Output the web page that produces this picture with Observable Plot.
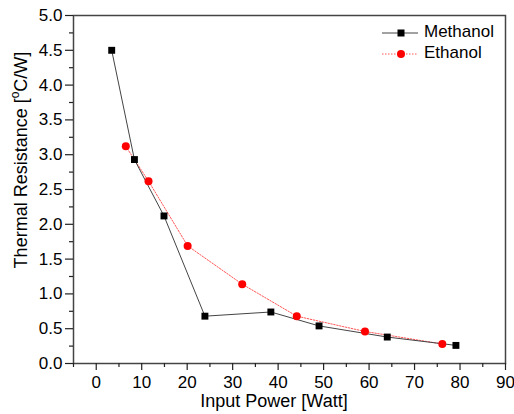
<!DOCTYPE html>
<html>
<head>
<meta charset="utf-8">
<script src="https://cdn.jsdelivr.net/npm/d3@7"></script>
<script src="https://cdn.jsdelivr.net/npm/@observablehq/plot@0.6"></script>
<style>
  html, body { margin: 0; padding: 0; background: #fff; }
  #chart { width: 514px; height: 414px; }
</style>
</head>
<body>
<div id="chart"></div>
<script>
// Data
const methanolPower = [3.4, 8.4, 14.9, 23.9, 38.4, 49.0, 64.0, 79.1];
const methanolResistance = [4.50, 2.93, 2.12, 0.68, 0.74, 0.54, 0.38, 0.26];
const ethanolPower = [6.5, 11.5, 20.1, 32.1, 44.1, 59.1, 76.1];
const ethanolResistance = [3.12, 2.62, 1.69, 1.14, 0.68, 0.46, 0.28];
const xTicks = [0, 10, 20, 30, 40, 50, 60, 70, 80, 90];
const xMinorTicks = [-5, 5, 15, 25, 35, 45, 55, 65, 75, 85];
const yTicks = [0.0, 0.5, 1.0, 1.5, 2.0, 2.5, 3.0, 3.5, 4.0, 4.5, 5.0];
const yMinorTicks = [0.25, 0.75, 1.25, 1.75, 2.25, 2.75, 3.25, 3.75, 4.25, 4.75];
const seriesNames = ["Methanol", "Ethanol"];

const methanol = methanolPower.map((x, i) => ({x, y: methanolResistance[i]}));
const ethanol = ethanolPower.map((x, i) => ({x, y: ethanolResistance[i]}));

const font = "'Liberation Sans', Arial, Helvetica, sans-serif";

const chart = Plot.plot({
  width: 514,
  height: 414,
  marginLeft: 73,
  marginRight: 9,
  marginTop: 15,
  marginBottom: 51,
  style: {fontFamily: font, fontSize: "17px", color: "#000", background: "#fff"},
  x: {domain: [-5, 90]},
  y: {domain: [0, 5]},
  marks: [
    Plot.frame({stroke: "#444", strokeWidth: 1.5}),
    Plot.axisX({ticks: xTicks, tickSize: 7, tickPadding: 5, fontSize: 17, label: null, stroke: "#222", strokeWidth: 1.2, tickFormat: d => String(d)}),
    Plot.axisX({ticks: xMinorTicks, tickSize: 4, text: null, label: null, stroke: "#222", strokeWidth: 1.2}),
    Plot.axisY({ticks: yTicks, tickSize: 8, tickPadding: 3, fontSize: 17, label: null, stroke: "#222", strokeWidth: 1.2, tickFormat: d3.format(".1f")}),
    Plot.axisY({ticks: yMinorTicks, tickSize: 4, text: null, label: null, stroke: "#222", strokeWidth: 1.2}),
    Plot.line(ethanol, {x: "x", y: "y", stroke: "#ff5555", strokeWidth: 1, strokeDasharray: "1.5,1.5"}),
    Plot.line(methanol, {x: "x", y: "y", stroke: "#444", strokeWidth: 1}),
    Plot.dot(ethanol, {x: "x", y: "y", r: 4, fill: "#ff0000", stroke: "none"}),
    Plot.dot(methanol, {x: "x", y: "y", r: 3.9, symbol: "square", fill: "#000", stroke: "none"})
  ]
});

document.getElementById("chart").appendChild(chart);

const svg = d3.select(chart);

// Axis titles
svg.append("text")
  .attr("x", 274).attr("y", 402)
  .attr("text-anchor", "middle").attr("dominant-baseline", "middle")
  .attr("font-family", font).attr("font-size", 18).attr("fill", "#000")
  .text("Input Power [Watt]");

const yt = svg.append("text")
  .attr("transform", "translate(22,160) rotate(-90)")
  .attr("text-anchor", "middle").attr("dominant-baseline", "middle")
  .attr("font-family", font).attr("font-size", 18).attr("fill", "#000");
yt.append("tspan").text("Thermal Resistance [");
yt.append("tspan").attr("font-size", 12).attr("dy", -6).text("o");
yt.append("tspan").attr("dy", 6).text("C/W]");

// Legend
const legend = svg.append("g").attr("font-family", font).attr("font-size", 17).attr("text-anchor", "start");
seriesNames.forEach((name, i) => {
  const y = 33 + i * 21;
  const g = legend.append("g").attr("transform", `translate(0,${y})`);
  g.append("line").attr("x1", 382).attr("x2", 418).attr("y1", 0).attr("y2", 0)
    .attr("stroke", i === 0 ? "#444" : "#ff5555")
    .attr("stroke-width", 1)
    .attr("stroke-dasharray", i === 0 ? null : "1.5,1.5");
  if (i === 0) {
    g.append("rect").attr("x", 397.5).attr("y", -3.5).attr("width", 7).attr("height", 7).attr("fill", "#000");
  } else {
    g.append("circle").attr("cx", 401).attr("cy", 0).attr("r", 4).attr("fill", "#ff0000");
  }
  g.append("text").attr("x", 424).attr("y", 0).attr("dominant-baseline", "middle")
    .attr("text-anchor", "start")
    .attr("fill", "#000").text(name);
});
</script>
</body>
</html>
